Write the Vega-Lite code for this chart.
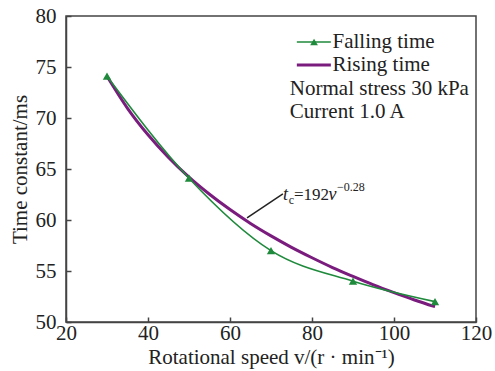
{
  "$schema": "https://vega.github.io/schema/vega-lite/v6.json",
  "width": 410,
  "height": 306,
  "autosize": {"type": "none"},
  "padding": {"left": 66, "top": 16, "right": 19, "bottom": 49},
  "background": "white",
  "config": {
    "font": "Liberation Serif",
    "view": {"stroke": "#444", "strokeWidth": 1.5},
    "axis": {
      "domainColor": "#444", "domainWidth": 1.5, "tickColor": "#444", "tickWidth": 1.5,
      "tickSize": -5, "labelFont": "Liberation Serif", "labelFontSize": 21, "labelColor": "#222",
      "titleFont": "Liberation Serif", "titleFontSize": 21, "titleFontWeight": "normal", "titleColor": "#222",
      "grid": false
    }
  },
  "datasets": {
    "falling": [
      {"v": 30, "t": 74.1}, {"v": 50, "t": 64.1}, {"v": 70, "t": 57.0}, {"v": 90, "t": 54.0}, {"v": 110, "t": 52.0}
    ],
    "rising": [
      {"v": 30, "t": 74.09}, {"v": 35, "t": 70.95}, {"v": 40, "t": 68.35}, {"v": 45, "t": 66.13},
      {"v": 50, "t": 64.20}, {"v": 55, "t": 62.52}, {"v": 60, "t": 61.02}, {"v": 65, "t": 59.66},
      {"v": 70, "t": 58.44}, {"v": 75, "t": 57.32}, {"v": 80, "t": 56.30}, {"v": 85, "t": 55.34},
      {"v": 90, "t": 54.47}, {"v": 95, "t": 53.64}, {"v": 100, "t": 52.88}, {"v": 105, "t": 52.16},
      {"v": 110, "t": 51.50}
    ]
  },
  "layer": [
    {
      "data": {"name": "rising"},
      "mark": {"type": "line", "color": "#7a1c7e", "strokeWidth": 3, "interpolate": "monotone"},
      "encoding": {
        "x": {"field": "v", "type": "quantitative",
              "scale": {"domain": [20, 120], "nice": false, "zero": false},
              "axis": {"values": [20, 40, 60, 80, 100, 120], "labelPadding": 5, "labelFlush": false,
                       "title": "Rotational speed v/(r · min⁻¹)", "titlePadding": 3}},
        "y": {"field": "t", "type": "quantitative",
              "scale": {"domain": [50, 80], "nice": false, "zero": false},
              "axis": {"values": [50, 55, 60, 65, 70, 75, 80], "labelPadding": 15,
                       "title": "Time constant/ms", "titlePadding": 5}}
      }
    },
    {
      "data": {"name": "falling"},
      "mark": {"type": "line", "color": "#1f8a3c", "strokeWidth": 1.6, "interpolate": "monotone"},
      "encoding": {
        "x": {"field": "v", "type": "quantitative"},
        "y": {"field": "t", "type": "quantitative"}
      }
    },
    {
      "data": {"name": "falling"},
      "mark": {"type": "point", "shape": "triangle-up", "filled": true, "color": "#1f8a3c", "size": 70, "opacity": 1},
      "encoding": {
        "x": {"field": "v", "type": "quantitative"},
        "y": {"field": "t", "type": "quantitative"}
      }
    },
    {
      "data": {"values": [{"x": 64.15, "y": 60.2, "x2": 72.9, "y2": 62.55}]},
      "mark": {"type": "rule", "color": "#222", "strokeWidth": 1.5},
      "encoding": {
        "x": {"field": "x", "type": "quantitative"},
        "y": {"field": "y", "type": "quantitative"},
        "x2": {"field": "x2"},
        "y2": {"field": "y2"}
      }
    },
    {
      "data": {"values": [{"x": 76.3, "x2": 84.6, "y": 77.45}]},
      "mark": {"type": "rule", "color": "#1f8a3c", "strokeWidth": 1.6},
      "encoding": {
        "x": {"field": "x", "type": "quantitative"},
        "x2": {"field": "x2"},
        "y": {"field": "y", "type": "quantitative"}
      }
    },
    {
      "data": {"values": [{"x": 80.5, "y": 77.45}]},
      "mark": {"type": "point", "shape": "triangle-up", "filled": true, "color": "#1f8a3c", "size": 60, "opacity": 1},
      "encoding": {
        "x": {"field": "x", "type": "quantitative"},
        "y": {"field": "y", "type": "quantitative"}
      }
    },
    {
      "data": {"values": [{"x": 76.3, "x2": 84.6, "y": 75.2}]},
      "mark": {"type": "rule", "color": "#7a1c7e", "strokeWidth": 3},
      "encoding": {
        "x": {"field": "x", "type": "quantitative"},
        "x2": {"field": "x2"},
        "y": {"field": "y", "type": "quantitative"}
      }
    },
    {
      "data": {"values": [
        {"x": 85.0, "y": 77.45, "label": "Falling time"},
        {"x": 85.0, "y": 75.2, "label": "Rising time"},
        {"x": 74.6, "y": 72.84, "label": "Normal stress 30 kPa"},
        {"x": 74.6, "y": 70.6, "label": "Current 1.0 A"}
      ]},
      "mark": {"type": "text", "align": "left", "baseline": "middle", "fontSize": 21, "color": "#222", "font": "Liberation Serif"},
      "encoding": {
        "x": {"field": "x", "type": "quantitative"},
        "y": {"field": "y", "type": "quantitative"},
        "text": {"field": "label"}
      }
    },
    {
      "data": {"values": [{"x": 72.93, "y": 61.96, "label": "t"}, {"x": 84.0, "y": 61.96, "label": "v"}]},
      "mark": {"type": "text", "align": "left", "baseline": "alphabetic", "fontSize": 18, "fontStyle": "italic", "color": "#222", "font": "Liberation Serif"},
      "encoding": {
        "x": {"field": "x", "type": "quantitative"},
        "y": {"field": "y", "type": "quantitative"},
        "text": {"field": "label"}
      }
    },
    {
      "data": {"values": [{"x": 75.6, "y": 61.96, "label": "=192"}]},
      "mark": {"type": "text", "align": "left", "baseline": "alphabetic", "fontSize": 17, "color": "#222", "font": "Liberation Serif"},
      "encoding": {
        "x": {"field": "x", "type": "quantitative"},
        "y": {"field": "y", "type": "quantitative"},
        "text": {"field": "label"}
      }
    },
    {
      "data": {"values": [{"x": 74.35, "y": 61.57, "label": "c"}, {"x": 86.1, "y": 62.84, "label": "−0.28"}]},
      "mark": {"type": "text", "align": "left", "baseline": "alphabetic", "fontSize": 12, "color": "#222", "font": "Liberation Serif"},
      "encoding": {
        "x": {"field": "x", "type": "quantitative"},
        "y": {"field": "y", "type": "quantitative"},
        "text": {"field": "label"}
      }
    }
  ]
}
